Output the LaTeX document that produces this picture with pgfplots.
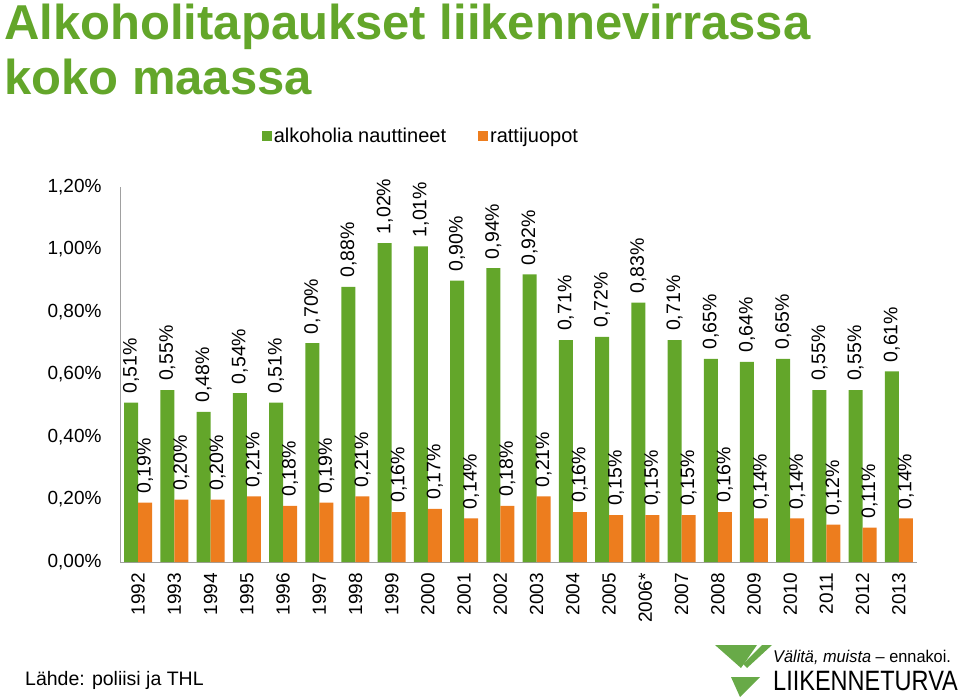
\documentclass[border=0pt]{standalone}
\usepackage{fontspec}
\setmainfont{Liberation Sans}
\usepackage{pgfplots}
\pgfplotsset{compat=1.18}
\definecolor{cgreen}{RGB}{99,166,42}
\definecolor{corange}{RGB}{237,125,30}
\definecolor{logogreen}{RGB}{104,170,72}
\definecolor{axgray}{RGB}{160,160,160}
\begin{document}
\begin{tikzpicture}[x=1pt,y=1pt]
\path[use as bounding box] (0,0) rectangle (960,699);
% title
\node[anchor=base west, text=cgreen, font=\fontsize{49}{55}\selectfont\bfseries, inner sep=0] at (4,659) {Alkoholitapaukset liikennevirrassa};
\node[anchor=base west, text=cgreen, font=\fontsize{49}{55}\selectfont\bfseries, inner sep=0] at (4,604) {koko maassa};
\begin{axis}[
  at={(120pt,137pt)}, anchor=south west,
  scale only axis, width=797pt, height=375pt,
  ymin=0, ymax=1.2, xmin=-0.5, xmax=21.5,
  ybar=0pt, bar width=14pt,
  clip=false,
  axis x line*=bottom, axis y line*=left,
  axis line style={axgray, line width=1pt},
  x axis line style={-}, y axis line style={-},
  major tick length=0pt,
  ytick={0,0.2,0.4,0.6,0.8,1.0,1.2},
  yticklabels={{0,00\%},{0,20\%},{0,40\%},{0,60\%},{0,80\%},{1,00\%},{1,20\%}},
  yticklabel style={font=\fontsize{19}{22}\selectfont, xshift=-15pt},
  xtick={0,...,21},
  xticklabels={1992,1993,1994,1995,1996,1997,1998,1999,2000,2001,2002,2003,2004,2005,2006*,2007,2008,2009,2010,2011,2012,2013},
  xticklabel style={font=\fontsize{19}{22}\selectfont, rotate=90, anchor=east, inner xsep=11pt},
  /pgf/number format/assume math mode=true,
  nodes near coords={\pgfmathprintnumber[fixed,fixed zerofill,precision=2,use comma]{\pgfplotspointmeta}\%},
  nodes near coords style={font=\fontsize{19.5}{22}\selectfont, rotate=90, anchor=west, inner xsep=9pt, inner ysep=0pt, /pgf/number format/assume math mode=true},
  legend columns=2,
  legend style={draw=none, at={(0.3775,1.136)}, anchor=center, font=\fontsize{20}{22}\selectfont, /tikz/every even column/.append style={column sep=30pt}},
  legend image code/.code={\fill[#1] (0pt,-5pt) rectangle (10pt,5pt);},
]
\addplot[fill=cgreen, draw=none] coordinates {
(0,0.51) (1,0.55) (2,0.48) (3,0.54) (4,0.51) (5,0.70) (6,0.88) (7,1.02) (8,1.01) (9,0.90) (10,0.94)
(11,0.92) (12,0.71) (13,0.72) (14,0.83) (15,0.71) (16,0.65) (17,0.64) (18,0.65) (19,0.55) (20,0.55) (21,0.61)};
\addplot[fill=corange, draw=none] coordinates {
(0,0.19) (1,0.20) (2,0.20) (3,0.21) (4,0.18) (5,0.19) (6,0.21) (7,0.16) (8,0.17) (9,0.14) (10,0.18)
(11,0.21) (12,0.16) (13,0.15) (14,0.15) (15,0.15) (16,0.16) (17,0.14) (18,0.14) (19,0.12) (20,0.11) (21,0.14)};
\legend{alkoholia nauttineet, rattijuopot}
\end{axis}
% source
\node[anchor=base west, inner sep=0, font=\fontsize{19.5}{22}\selectfont] at (25,14) {Lähde: poliisi ja THL};
% logo
\fill[logogreen] (715,54) -- (757,54) -- (741,31) -- cycle;
\fill[logogreen] (762,54) -- (772,54) -- (747,31) -- (743,35) -- cycle;
\fill[logogreen] (731,22) -- (760,22) -- (740,2) -- cycle;
\node[anchor=base west, inner sep=0, xscale=0.96, font=\fontsize{17}{20}\selectfont] at (773,37) {\textit{Välitä, muista} – ennakoi.};
\node[anchor=base west, inner sep=0, xscale=0.84, font=\fontsize{28}{30}\selectfont] at (773,9) {LIIKENNETURVA};
\end{tikzpicture}
\end{document}
